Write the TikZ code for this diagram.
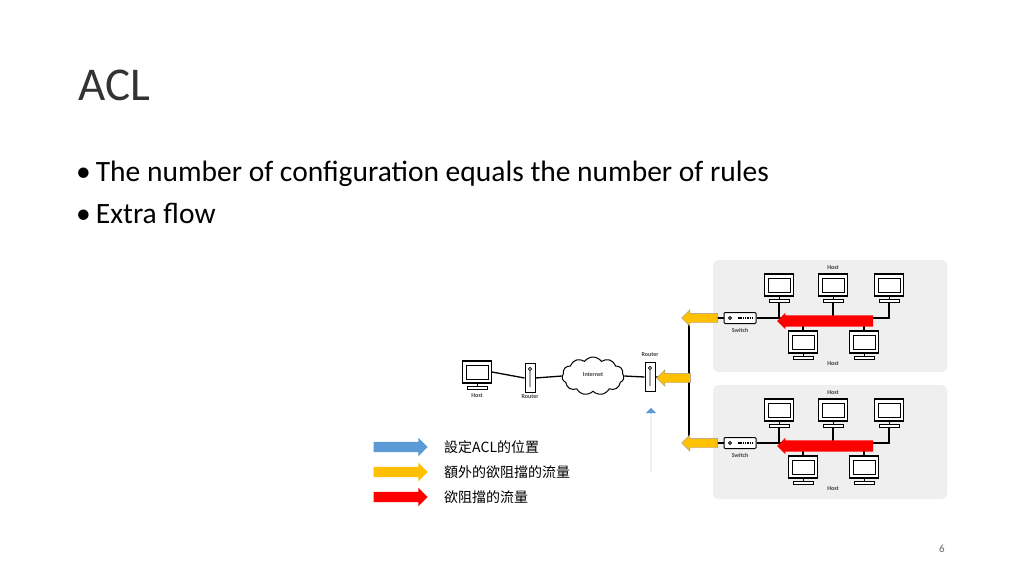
\documentclass[tikz,border=0pt]{standalone}
\usepackage{fontspec}
\setmainfont{Carlito}
\newfontfamily\cjk{Noto Sans CJK TC}
\usetikzlibrary{shapes.arrows,shapes.symbols}
\definecolor{panel}{HTML}{EFEFEF}
\definecolor{ablue}{HTML}{5B9BD5}
\definecolor{ayel}{HTML}{FFC000}
\tikzset{
 x=1pt,y=-1pt,
 panelbox/.style={fill=panel,draw=none,rounded corners=5pt},
 wire/.style={line width=1.3pt,black},
 lbl/.style={font=\fontsize{6}{7}\selectfont\bfseries,text=black!75,inner sep=1pt},
 arr/.style={single arrow,draw=none,minimum height=#1,inner xsep=0pt},
 yarr/.style={arr=#1,fill=ayel,draw=black!40,line width=0.4pt,inner ysep=4.5pt,single arrow head extend=3.5pt,shape border rotate=180},
 rarr/.style={arr=#1,fill=red,inner ysep=5.5pt,single arrow head extend=2.5pt,shape border rotate=180},
 legarr/.style={arr=54pt,fill=#1,inner ysep=5pt,single arrow head extend=4pt},
 monitor/.pic={
  \node[draw,line width=1.1pt,fill=white,minimum width=29pt,minimum height=22pt,inner sep=0] (-m) at (0,0) {};
  \draw[line width=0.9pt] (-11,-7) rectangle (11,7);
  \draw[line width=1pt] (0,11) -- (0,14);
  \draw[line width=1pt,fill=white] (-10,14) rectangle (10,17);
  \coordinate (-b) at (0,17);
 },
 routerbox/.pic={
  \node[draw,line width=1pt,fill=white,minimum width=10pt,minimum height=29pt,inner sep=0] (-r) at (0,0) {};
  \draw[line width=0.8pt] (0,-9) circle (1.6pt) (0,-7) -- (0,9);
 },
 switchbox/.pic={
  \node[draw,line width=1pt,fill=white,rounded corners=1pt,minimum width=32pt,minimum height=11pt,inner sep=0] (-s) at (0,0) {};
  \draw[line width=0.8pt] (-10,0) circle (1.5pt);
  \draw[line width=2pt,dash pattern=on 1.5pt off 0.8pt] (-2,0) -- (12,0);
 },
}
\begin{document}
\begin{tikzpicture}
\useasboundingbox[fill=white] (0,0) rectangle (1024,576);
\node[anchor=base west,font=\fontsize{47}{50}\selectfont,text=black!80,inner sep=0] (title) at (78,100) {ACL};
\node[anchor=base west,font=\fontsize{29.5}{32}\selectfont,inner sep=0] (b1) at (76,181) {•\hspace{5pt}The number of configuration equals the number of rules};
\node[anchor=base west,font=\fontsize{29.5}{32}\selectfont,inner sep=0] (b2) at (76,223) {•\hspace{5pt}Extra flow};
\node[font=\fontsize{11}{12}\selectfont,text=black!60] (pg) at (942,549) {6};
% panels
\fill[panelbox] (713,260) rectangle (947,372);
\fill[panelbox] (713,385) rectangle (947,499);
% panel hosts
\foreach \p/\dy in {a/0,b/125}{
 \pic (\p1) at (779,285+\dy) {monitor};
 \pic (\p2) at (833,285+\dy) {monitor};
 \pic (\p3) at (889,285+\dy) {monitor};
 \pic (\p4) at (803,342+\dy) {monitor};
 \pic (\p5) at (864,342+\dy) {monitor};
 \pic (\p sw) at (740,318+\dy) {switchbox};
 \node[lbl] (\p ht) at (833,268+\dy) {Host};
 \node[lbl] (\p hb) at (833,364+\dy) {Host};
 \node[lbl] (\p sl) at (740,330+\dy) {Switch};
 \coordinate (\p end) at (877,318+\dy);
 \draw[wire] (\p sw-s.east) -- (\p end);
 \draw[wire] (\p1-b) -- (\p1-b |- \p end);
 \draw[wire] (\p2-b) -- (\p2-b |- \p end);
 \draw[wire] (\p3-b) -- (\p3-b |- \p end) -- (\p end);
 \draw[wire] (\p4-m.north) -- (\p4-m.north |- \p end);
 \draw[wire] (\p5-m.north) -- (\p5-m.north |- \p end);
 \node[rarr=96pt] (\p red) at (828,321+\dy) {};
}
% backbone
\coordinate (ja) at (689,318);
\coordinate (jb) at (689,443);
\coordinate (jm) at (689,378);
\draw[wire] (asw-s.west) -- (ja) -- (jb) -- (bsw-s.west);
% left side
\pic (h0) at (477,372) {monitor};
\node[lbl] (h0l) at (477,396) {Host};
\pic (r1) at (530,378) {routerbox};
\node[lbl] (r1l) at (530,397) {Router};
\node[cloud,draw,line width=1pt,fill=white,cloud puffs=11,cloud puff arc=110,aspect=1.7,minimum width=62pt,minimum height=38pt,inner sep=0] (net) at (593,376) {};
\node[lbl] (netl) at (593,375) {Internet};
\pic (r2) at (650,377) {routerbox};
\node[lbl] (r2l) at (650,355) {Router};
\draw[wire] (h0-m.east) -- (r1-r.west);
\draw[wire] (r1-r.east) -- (net.west);
\draw[wire] (net.east) -- (r2-r.west);
\draw[wire] (r2-r.east) -- (jm);
% yellow arrows
\node[yarr=36pt] (ya1) at (702,318) {};
\node[yarr=36pt] (ya2) at (702,443) {};
\node[yarr=34pt] (ya3) at (676,378) {};
% blue up arrow
\node[arr=64pt,fill=ablue,inner ysep=5.5pt,single arrow head extend=5pt,shape border rotate=90] (bup) at (651,440) {};
% legend
\node[legarr=ablue] (l1) at (398,447) {};
\node[legarr=ayel] (l2) at (398,472) {};
\node[legarr=red] (l3) at (398,497) {};
\node[anchor=west,font=\cjk\fontsize{14}{16}\selectfont,inner sep=0] (t1) at (444,447) {設定ACL的位置};
\node[anchor=west,font=\cjk\fontsize{14}{16}\selectfont,inner sep=0] (t2) at (444,472) {額外的欲阻擋的流量};
\node[anchor=west,font=\cjk\fontsize{14}{16}\selectfont,inner sep=0] (t3) at (444,497) {欲阻擋的流量};
\end{tikzpicture}
\end{document}
